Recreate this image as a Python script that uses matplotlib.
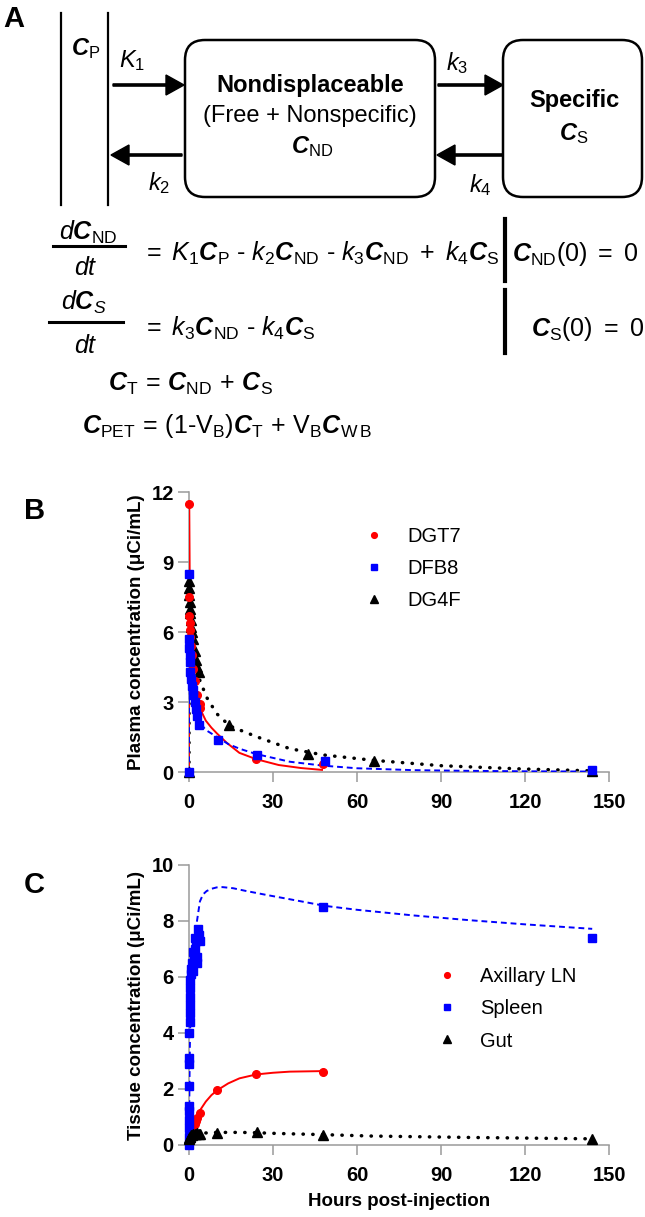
import matplotlib
matplotlib.use('Agg')
import matplotlib.pyplot as plt
from matplotlib.patches import FancyBboxPatch

plt.rcParams['font.family'] = ['Liberation Sans', 'DejaVu Sans']
plt.rcParams['mathtext.fontset'] = 'custom'
plt.rcParams['mathtext.rm'] = 'Liberation Sans'
plt.rcParams['mathtext.it'] = 'Liberation Sans:italic'
plt.rcParams['mathtext.bf'] = 'Liberation Sans:bold'
plt.rcParams['mathtext.bfit'] = 'Liberation Sans:bold:italic'

# Panel B: plasma data (hours, uCi/mL)
dgt7_t = [0, 0.05, 0.1, 0.17, 0.25, 0.33, 0.5, 0.75, 1, 1.5, 2, 3, 4, 4, 24, 48]
dgt7_c = [0, 11.5, 7.5, 6.7, 6.4, 6.1, 5.8, 5.4, 5.0, 4.4, 3.9, 3.3, 2.9, 2.75, 0.57, 0.34]
dfb8_t = [0, 0.05, 0.1, 0.17, 0.25, 0.33, 0.5, 0.75, 1, 1.25, 1.5, 2, 2.5, 3, 3.5, 10.5, 24.3, 48.5, 144]
dfb8_c = [0, 8.5, 5.7, 5.3, 5.0, 4.7, 4.3, 4.0, 3.7, 3.5, 3.3, 3.0, 2.7, 2.4, 2.0, 1.37, 0.73, 0.48, 0.1]
dg4f_t = [0, 0.05, 0.1, 0.17, 0.25, 0.33, 0.5, 0.67, 0.83, 1, 1.5, 2, 2.5, 3, 3.5, 14.4, 42.4, 66.2, 144]
dg4f_c = [0, 8.2, 7.9, 7.6, 7.3, 7.0, 6.8, 6.5, 6.2, 6.0, 5.7, 5.2, 4.8, 4.5, 4.3, 2.0, 0.77, 0.47, 0.05]

# Panel B: fitted curves
fit_dgt7_t = [0, 0.05, 0.3, 0.7, 1.2, 2, 3, 4, 6, 8, 10, 13.5, 18, 24, 32, 40, 47.5]
fit_dgt7_c = [0, 11.5, 7.0, 5.6, 4.7, 3.9, 3.2, 2.7, 2.2, 1.9, 1.65, 1.25, 0.82, 0.55, 0.3, 0.17, 0.09]
fit_dfb8_t = [0, 0.05, 0.3, 0.7, 1.2, 2, 3, 4, 6, 10, 14, 18, 24, 36, 48, 60, 80, 100, 120, 144]
fit_dfb8_c = [0, 8.5, 5.3, 4.3, 3.6, 3.0, 2.5, 2.1, 1.8, 1.5, 1.2, 1.0, 0.77, 0.44, 0.27, 0.16, 0.08, 0.05, 0.03, 0.02]
fit_dg4f_t = [0, 0.05, 0.5, 1, 2, 3.3, 6.3, 9.9, 14.6, 24.2, 36, 48, 66, 90, 119, 144]
fit_dg4f_c = [0, 8.2, 7.0, 6.1, 5.0, 4.1, 3.2, 2.5, 1.97, 1.51, 1.0, 0.73, 0.5, 0.27, 0.13, 0.05]

# Panel C: tissue data
ln_t = [0, 0.1, 0.25, 0.5, 0.75, 1, 1.5, 2, 2.5, 3, 4, 10, 24, 48]
ln_c = [0, 0.1, 0.2, 0.3, 0.4, 0.5, 0.6, 0.75, 0.85, 0.95, 1.15, 1.95, 2.55, 2.62]
sp_t = [0, 0.02, 0.03, 0.05, 0.07, 0.08, 0.1, 0.12, 0.15, 0.17, 0.2, 0.25, 0.3, 0.33, 0.4, 0.5,
        0.6, 0.75, 1, 1.25, 1.5, 1.75, 2, 2.25, 2.5, 2.75, 3, 3.25, 3.5, 3.75, 48, 144]
sp_c = [0, 0.3, 0.6, 0.9, 1.2, 1.4, 2.1, 2.9, 3.1, 4.0, 4.4, 4.7, 5.0, 5.3, 5.6, 5.9,
        6.1, 6.3, 6.5, 6.2, 6.9, 6.6, 7.0, 7.4, 7.3, 6.7, 6.5, 7.7, 7.5, 7.3, 8.5, 7.4]
gut_t = [0, 0.1, 0.25, 0.5, 0.75, 1, 1.5, 2, 2.5, 3, 3.5, 4, 9.9, 24.2, 47.7, 144]
gut_c = [0.2, 0.25, 0.3, 0.3, 0.35, 0.35, 0.4, 0.38, 0.4, 0.42, 0.4, 0.38, 0.42, 0.48, 0.36, 0.22]

fit_ln_t = [0, 0.5, 1, 1.5, 2, 3, 4, 6, 8, 10, 14, 18, 24, 30, 36, 42, 48]
fit_ln_c = [0, 0.3, 0.55, 0.75, 0.9, 1.1, 1.25, 1.55, 1.78, 1.95, 2.2, 2.38, 2.52, 2.58, 2.62, 2.63, 2.64]
fit_sp_t = [0, 0.1, 0.3, 0.6, 1, 1.5, 2, 2.7, 3.9, 5, 6.3, 8, 9.9, 12, 15.8, 20, 27.7, 39.6, 48.6,
            60, 80, 100, 120, 144]
fit_sp_c = [0, 1.5, 3.5, 5.0, 6.0, 6.7, 7.2, 7.9, 8.7, 8.95, 9.07, 9.15, 9.2, 9.21, 9.17, 9.08, 8.93,
            8.71, 8.54, 8.4, 8.2, 8.03, 7.88, 7.72]
fit_gut_t = [0, 1, 2, 4, 10, 18, 24, 29, 36, 48, 65, 100, 144]
fit_gut_c = [0.2, 0.35, 0.4, 0.42, 0.45, 0.45, 0.44, 0.42, 0.4, 0.37, 0.32, 0.27, 0.22]

x_ticks = [0, 30, 60, 90, 120, 150]
b_yticks = [0, 3, 6, 9, 12]
c_yticks = [0, 2, 4, 6, 8, 10]

fig = plt.figure(figsize=(6.45, 12.17), dpi=100)

# overlay in pixel coordinates for the model diagram
ov = fig.add_axes([0, 0, 1, 1])
ov.set_xlim(0, 645)
ov.set_ylim(1217, 0)
ov.axis('off')

def txt(x, y, s, size=17, ha='left', weight='normal'):
    ov.text(x, y, s, fontsize=size, ha=ha, va='baseline', fontweight=weight)

txt(3, 27, 'A', 21, weight='bold')
txt(24, 519, 'B', 21, weight='bold')
txt(24, 893, 'C', 21, weight='bold')

# compartment diagram
for xv in [61, 108]:
    ov.plot([xv, xv], [13, 205], color='black', lw=1.6)
ov.add_patch(FancyBboxPatch((185, 40), 250, 157, boxstyle='round,pad=0,rounding_size=20',
                            fc='white', ec='black', lw=1.8))
ov.add_patch(FancyBboxPatch((503, 40), 139, 157, boxstyle='round,pad=0,rounding_size=20',
                            fc='white', ec='black', lw=1.8))
for x0, x1, y in [(113, 184, 85), (182, 111, 155), (438, 503, 85), (503, 437, 155)]:
    ov.arrow(x0, y, x1 - x0, 0, width=2.2, head_width=20, head_length=18,
             length_includes_head=True, color='black')

txt(71, 55, r'$\mathbfit{C}_{\mathrm{P}}$', 17)
txt(119, 67, r'$K_{1}$', 17)
txt(148, 190, r'$k_{2}$', 17)
txt(446, 70, r'$k_{3}$', 17)
txt(469, 192, r'$k_{4}$', 17)
txt(310, 92, 'Nondisplaceable', 17, ha='center', weight='bold')
txt(310, 122, '(Free + Nonspecific)', 17, ha='center')
txt(312, 153, r'$\mathbfit{C}_{\mathrm{ND}}$', 17, ha='center')
txt(574, 107, 'Specific', 17, ha='center', weight='bold')
txt(574, 140, r'$\mathbfit{C}_{\mathrm{S}}$', 17, ha='center')

# equations
txt(88, 240, r'$d\mathbfit{C}_{\mathrm{ND}}$', 18, ha='center')
ov.plot([53, 125], [246, 246], color='black', lw=2.2)
txt(86, 275, r'$dt$', 18, ha='center')
txt(142, 261, r'$=\ K_1\mathbfit{C}_{\mathrm{P}}\ \text{-}\ k_2\mathbfit{C}_{\mathrm{ND}}\ \text{-}\ '
              r'k_3\mathbfit{C}_{\mathrm{ND}}\ +\ k_4\mathbfit{C}_{\mathrm{S}}$', 18)
ov.plot([505, 505], [219, 281], color='black', lw=3)
txt(512, 261, r'$\mathbfit{C}_{\mathrm{ND}}\mathrm{(0)\ =\ 0}$', 18)

txt(84, 310, r'$d\mathbfit{C}_{S}$', 18, ha='center')
ov.plot([49, 123], [322, 322], color='black', lw=2.2)
txt(86, 353, r'$dt$', 18, ha='center')
txt(142, 336, r'$=\ k_3\mathbfit{C}_{\mathrm{ND}}\ \text{-}\ k_4\mathbfit{C}_{\mathrm{S}}$', 18)
ov.plot([505, 505], [290, 353], color='black', lw=3)
txt(531, 336, r'$\mathbfit{C}_{\mathrm{S}}\mathrm{(0)\ =\ 0}$', 18)

txt(108, 391, r'$\mathbfit{C}_{\mathrm{T}}\,=\,\mathbfit{C}_{\mathrm{ND}}\,+\,\mathbfit{C}_{\mathrm{S}}$', 18)
txt(82, 433, r'$\mathbfit{C}_{\mathrm{PET}}\,=\,\mathrm{(1\text{-}V_{B})}\mathbfit{C}_{\mathrm{T}}\,+\,'
             r'\mathrm{V_{B}}\mathbfit{C}_{\mathrm{W\,B}}$', 18)

# data panels
axB = fig.add_axes([189 / 645, 1 - 772 / 1217, 420 / 645, 280 / 1217])
axC = fig.add_axes([189 / 645, 1 - 1145 / 1217, 420 / 645, 280 / 1217])

dotted = dict(color='black', lw=2.5, linestyle=(0, (0.1, 2.7)), dash_capstyle='round')
dashed = dict(color='#0000ff', lw=1.4, linestyle=(0, (3, 2)))

axB.plot(fit_dg4f_t, fit_dg4f_c, zorder=2, **dotted)
axB.plot(fit_dgt7_t, fit_dgt7_c, color='#ff0000', lw=1.4, zorder=3)
axB.plot(fit_dfb8_t, fit_dfb8_c, zorder=4, **dashed)
h3 = axB.plot(dg4f_t, dg4f_c, '^', color='black', ms=7, clip_on=False, zorder=5, label='DG4F')[0]
h1 = axB.plot(dgt7_t, dgt7_c, 'o', color='#ff0000', ms=5.5, clip_on=False, zorder=6, label='DGT7')[0]
h2 = axB.plot(dfb8_t, dfb8_c, 's', color='#0000ff', ms=5.5, clip_on=False, zorder=7, label='DFB8')[0]
axB.legend(handles=[h1, h2, h3], loc='upper left', bbox_to_anchor=(0.4167, 0.876), frameon=False,
           fontsize=14.5, handlelength=1.0, handletextpad=1.15, labelspacing=0.66,
           borderpad=0, borderaxespad=0, markerscale=0.75)

axC.plot(fit_ln_t, fit_ln_c, color='#ff0000', lw=1.4, zorder=3)
axC.plot(fit_sp_t, fit_sp_c, zorder=4, **dashed)
axC.plot(fit_gut_t, fit_gut_c, zorder=2, **dotted)
g1 = axC.plot(ln_t, ln_c, 'o', color='#ff0000', ms=5.5, clip_on=False, zorder=5, label='Axillary LN')[0]
g2 = axC.plot(sp_t, sp_c, 's', color='#0000ff', ms=5.5, clip_on=False, zorder=6, label='Spleen')[0]
g3 = axC.plot(gut_t, gut_c, '^', color='black', ms=7, clip_on=False, zorder=7, label='Gut')[0]
axC.legend(handles=[g1, g2, g3], loc='upper left', bbox_to_anchor=(0.590, 0.636), frameon=False,
           fontsize=14.5, handlelength=1.0, handletextpad=1.15, labelspacing=0.66,
           borderpad=0, borderaxespad=0, markerscale=0.75)

for ax, ylim, yt, ylab in [(axB, 12, b_yticks, 'Plasma concentration (\u03bcCi/mL)'),
                           (axC, 10, c_yticks, 'Tissue concentration (\u03bcCi/mL)')]:
    ax.set_xlim(0, 150)
    ax.set_ylim(0, ylim)
    ax.set_xticks(x_ticks)
    ax.set_yticks(yt)
    ax.set_facecolor('none')
    for s in ['top', 'right']:
        ax.spines[s].set_visible(False)
    for s in ['left', 'bottom']:
        ax.spines[s].set_color('#9a9a9a')
        ax.spines[s].set_linewidth(1.1)
    ax.tick_params(axis='both', colors='#9a9a9a', labelcolor='black', width=1.1, labelsize=14.5)
    ax.tick_params(axis='x', length=7.5, pad=7.5)
    ax.tick_params(axis='y', length=8, pad=3)
    for lab in ax.get_xticklabels() + ax.get_yticklabels():
        lab.set_fontweight('bold')
    ax.set_ylabel(ylab, fontsize=13.5, fontweight='bold')
    ax.yaxis.set_label_coords(-0.105, 0.5)

axC.set_xlabel('Hours post-injection', fontsize=13.5, fontweight='bold', labelpad=6)

fig.savefig('out.png', dpi=100)
